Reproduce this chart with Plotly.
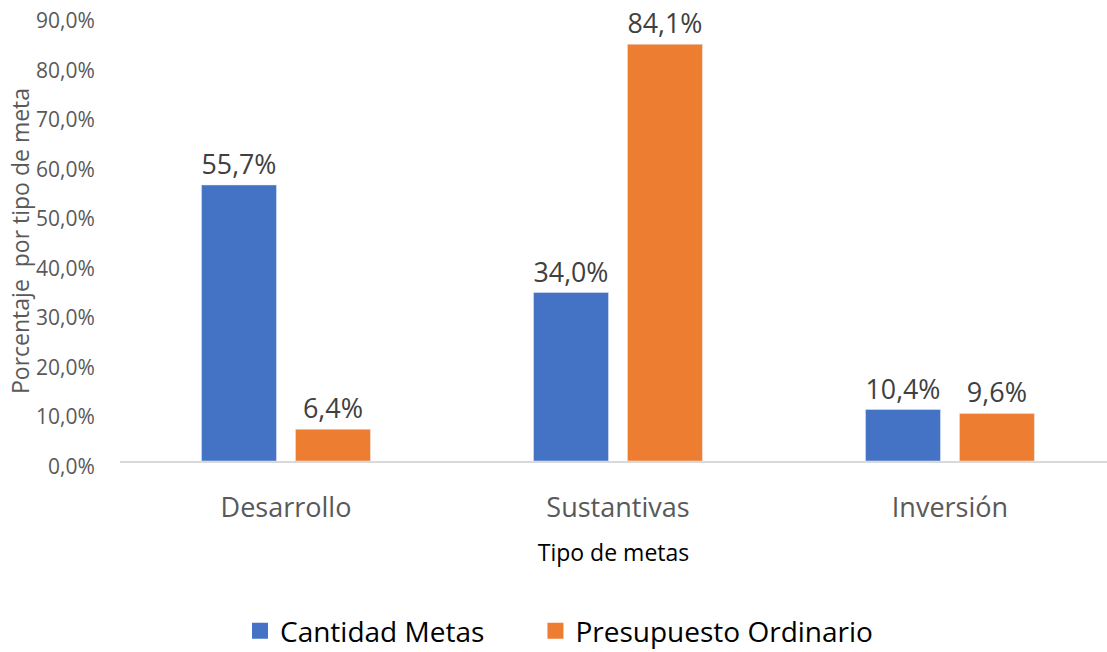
import plotly.graph_objects as go

categories = ["Desarrollo", "Sustantivas", "Inversión"]
cantidad_metas = [55.7, 34.0, 10.4]
presupuesto_ordinario = [6.4, 84.1, 9.6]
series_names = ["Cantidad Metas", "Presupuesto Ordinario"]
series_colors = ["#4472C4", "#ED7D31"]
y_ticks = [0, 10, 20, 30, 40, 50, 60, 70, 80, 90]

FONT = "Open Sans"


def fmt(v):
    return f"{v:.1f}".replace(".", ",") + "%"


fig = go.Figure()
for name, vals, col in zip(series_names, [cantidad_metas, presupuesto_ordinario], series_colors):
    fig.add_trace(go.Bar(
        x=categories, y=vals, name=name, showlegend=False,
        marker_color=col,
        text=[fmt(v) for v in vals],
        textposition="outside", cliponaxis=False,
        textfont=dict(size=27, color="#404040", family=FONT),
    ))
# legend entries with larger square markers, one legend each for placement
for i, (name, col) in enumerate(zip(series_names, series_colors)):
    fig.add_trace(go.Scatter(
        x=[None], y=[None], mode="markers", name=name,
        legend="legend" if i == 0 else "legend2",
        marker=dict(symbol="square", size=17, color=col),
    ))

# y tick labels (slightly below their tick, as in the original)
for v in y_ticks:
    fig.add_annotation(
        x=0, xref="paper", y=v, yref="y", text=fmt(v), showarrow=False,
        xanchor="right", yanchor="middle", xshift=-23, yshift=-5,
        font=dict(size=21, color="#595959", family=FONT),
    )
# y axis title
fig.add_annotation(
    x=0, xref="paper", y=0.5, yref="paper", text="Porcentaje  por tipo de meta",
    showarrow=False, textangle=-90, xanchor="center", yanchor="middle",
    xshift=-100, yshift=-3, font=dict(size=23, color="#595959", family=FONT),
)

legend_common = dict(orientation="h", xref="container", xanchor="left",
                     yref="container", y=0.032, yanchor="middle",
                     font=dict(size=28, color="#000000", family=FONT),
                     itemwidth=30, bgcolor="rgba(0,0,0,0)")

fig.update_layout(
    width=1107, height=652,
    margin=dict(l=120, r=0, t=15, b=191),
    plot_bgcolor="white", paper_bgcolor="white",
    separators=",.",
    barmode="group", bargap=0.434, bargroupgap=0.202,
    font=dict(family=FONT, color="#595959"),
    showlegend=True,
    legend=dict(x=0.2168, **legend_common),
    legend2=dict(x=0.4837, **legend_common),
    xaxis=dict(range=[-0.5, 2.473], showline=True, linecolor="#D9D9D9", linewidth=2,
               ticks="", automargin=False, ticklabelstandoff=22,
               tickfont=dict(size=27, color="#595959"),
               title=dict(text="Tipo de metas", font=dict(size=23, color="#000000"), standoff=20)),
    yaxis=dict(range=[0, 90], tickvals=y_ticks, showticklabels=False, automargin=False,
               showgrid=False, zeroline=False, showline=False),
)
fig.write_html("out.html", config={"displayModeBar": False},
               post_script="document.body.style.margin='0';")
